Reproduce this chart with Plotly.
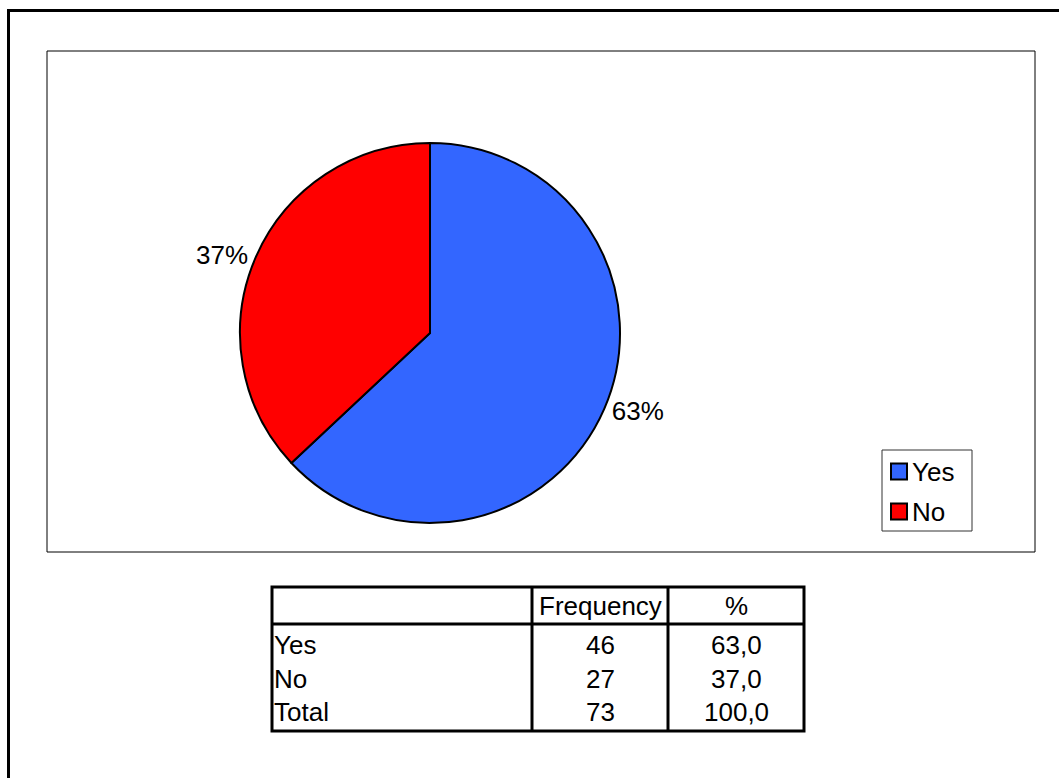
import plotly.graph_objects as go

# Survey answers
categories = ["Yes", "No"]
frequency = [46, 27]
percent = [63.0, 37.0]
total_label = "Total"
total_frequency = 73
total_percent = 100.0
header = ["", "Frequency", "%"]
slice_colors = ["#3366FF", "#FF0000"]

W, H = 1059, 778
FONT = "Liberation Sans, Arial, sans-serif"
FS = 26


def px(x):
    return x / W


def py(y):
    return 1 - y / H


fig = go.Figure()

fig.add_trace(go.Pie(
    labels=categories,
    values=frequency,
    sort=False,
    direction="clockwise",
    rotation=0,
    marker=dict(colors=slice_colors, line=dict(color="black", width=2)),
    texttemplate="%{percent:.0%}",
    textposition="outside",
    textfont=dict(family=FONT, size=FS, color="black"),
    hoverinfo="label+value+percent",
    domain=dict(x=[px(240), px(620)], y=[py(523), py(143)]),
    showlegend=False,
    automargin=False,
))

shapes = []
annotations = []

# outer frame
shapes.append(dict(type="rect", xref="paper", yref="paper",
                   x0=px(8.5), x1=px(1075), y0=py(800), y1=py(10.5),
                   line=dict(color="black", width=3)))
# chart area frame
shapes.append(dict(type="rect", xref="paper", yref="paper",
                   x0=px(47), x1=px(1035), y0=py(552), y1=py(51),
                   line=dict(color="black", width=1)))

# legend
shapes.append(dict(type="rect", xref="paper", yref="paper",
                   x0=px(882), x1=px(972), y0=py(531), y1=py(450),
                   line=dict(color="#333333", width=1)))
for i, (lab, col) in enumerate(zip(categories, slice_colors)):
    cy = 471.5 + 40 * i
    shapes.append(dict(type="rect", xref="paper", yref="paper",
                       x0=px(891), x1=px(907), y0=py(cy + 8), y1=py(cy - 8),
                       fillcolor=col, line=dict(color="black", width=2)))
    annotations.append(dict(xref="paper", yref="paper", x=px(910), y=py(cy),
                            xanchor="left", yanchor="middle", text=lab,
                            showarrow=False,
                            font=dict(family=FONT, size=FS, color="black")))

# frequency table
tx0, tx1, ty0, ty1 = 272, 804, 587, 731
col_edges = [272, 532, 668, 804]
head_line = 624
lw = 3
shapes.append(dict(type="rect", xref="paper", yref="paper",
                   x0=px(tx0), x1=px(tx1), y0=py(ty1), y1=py(ty0),
                   line=dict(color="black", width=lw)))
shapes.append(dict(type="line", xref="paper", yref="paper",
                   x0=px(tx0), x1=px(tx1), y0=py(head_line), y1=py(head_line),
                   line=dict(color="black", width=lw)))
for xe in col_edges[1:3]:
    shapes.append(dict(type="line", xref="paper", yref="paper",
                       x0=px(xe), x1=px(xe), y0=py(ty1), y1=py(ty0),
                       line=dict(color="black", width=lw)))

col_centers = [(col_edges[i] + col_edges[i + 1]) / 2 for i in range(3)]
font_t = dict(family=FONT, size=FS, color="black")
for j, h in enumerate(header):
    if h:
        annotations.append(dict(xref="paper", yref="paper", x=px(col_centers[j]),
                                y=py(606), xanchor="center", yanchor="middle",
                                text=h, showarrow=False, font=font_t))

row_labels = categories + [total_label]
row_freq = frequency + [total_frequency]
row_pct = percent + [total_percent]
row_y = [645, 679, 712]
for lab, f, p, yy in zip(row_labels, row_freq, row_pct, row_y):
    annotations.append(dict(xref="paper", yref="paper", x=px(272), y=py(yy),
                            xanchor="left", yanchor="middle", text=lab,
                            showarrow=False, font=font_t))
    annotations.append(dict(xref="paper", yref="paper", x=px(col_centers[1]),
                            y=py(yy), xanchor="center", yanchor="middle",
                            text=str(f), showarrow=False, font=font_t))
    annotations.append(dict(xref="paper", yref="paper", x=px(col_centers[2]),
                            y=py(yy), xanchor="center", yanchor="middle",
                            text=f"{p:.1f}".replace(".", ","), showarrow=False,
                            font=font_t))

fig.update_layout(
    width=W, height=H,
    margin=dict(l=0, r=0, t=0, b=0),
    paper_bgcolor="white",
    plot_bgcolor="white",
    shapes=shapes,
    annotations=annotations,
    font=dict(family=FONT, color="black"),
)

fig.write_html("out.html", config={"displayModeBar": False})
